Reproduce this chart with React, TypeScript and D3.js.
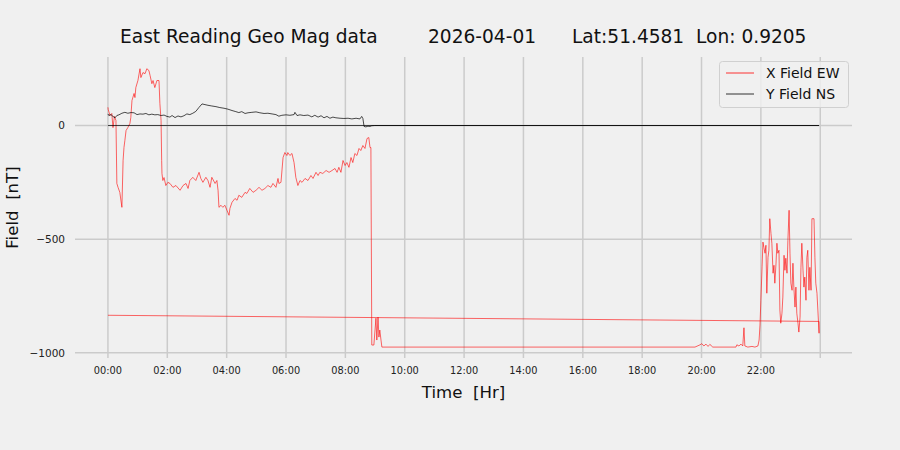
import React from "react";
import * as d3 from "d3";

const TITLE_PARTS = ["East Reading Geo Mag data", "2026-04-01", "Lat:51.4581  Lon: 0.9205"];
const X_LABEL = "Time  [Hr]";
const Y_LABEL = "Field  [nT]";
const SERIES_NAMES = ["X Field EW", "Y Field NS"];
const X_TICK_HOURS = [0, 2, 4, 6, 8, 10, 12, 14, 16, 18, 20, 22, 24];
const X_TICK_LABELS = ["00:00", "02:00", "04:00", "06:00", "08:00", "10:00", "12:00", "14:00", "16:00", "18:00", "20:00", "22:00", ""];
const Y_TICKS = [0, -500, -1000];

// [hour, nT]
const xFieldEW: [number, number][] = [
  [0.0, 80], [0.01, 70], [0.07, 44], [0.13, 53], [0.17, -9], [0.22, 40], [0.27, 22], [0.3, -255], [0.34, -272],
  [0.4, -294], [0.47, -360], [0.51, -154], [0.54, -97], [0.57, -66], [0.61, -22], [0.67, -9], [0.74, 9],
  [0.77, 35], [0.81, 110], [0.88, 141], [0.91, 123], [0.94, 167], [1.01, 198], [1.08, 250], [1.11, 211],
  [1.18, 233], [1.25, 228], [1.31, 250], [1.38, 242], [1.42, 220], [1.48, 184], [1.52, 198], [1.58, 167],
  [1.65, 198], [1.72, 198], [1.75, 97], [1.79, 22], [1.81, -154], [1.82, -211], [1.85, -242], [1.89, -229],
  [1.95, -264], [2.02, -250], [2.09, -255], [2.19, -272], [2.29, -264], [2.43, -285], [2.53, -264],
  [2.63, -255], [2.7, -277], [2.76, -242], [2.86, -228], [2.96, -242], [3.07, -206], [3.13, -233],
  [3.2, -250], [3.3, -228], [3.37, -242], [3.44, -272], [3.5, -228], [3.61, -255], [3.67, -242],
  [3.71, -285], [3.74, -360], [3.81, -351], [3.87, -360], [3.94, -351], [4.01, -373], [4.08, -395],
  [4.11, -365], [4.18, -338], [4.28, -321], [4.35, -329], [4.41, -307], [4.51, -316], [4.62, -294],
  [4.68, -299], [4.78, -277], [4.89, -294], [4.99, -285], [5.09, -272], [5.19, -285], [5.29, -277],
  [5.39, -264], [5.49, -272], [5.56, -255], [5.66, -272], [5.73, -233], [5.76, -255], [5.83, -250],
  [5.9, -141], [5.96, -119], [6.03, -132], [6.06, -119], [6.13, -132], [6.2, -123], [6.27, -163],
  [6.33, -228], [6.4, -264], [6.47, -242], [6.54, -250], [6.64, -233], [6.74, -242], [6.84, -220],
  [6.91, -233], [7.01, -206], [7.08, -220], [7.14, -206], [7.24, -211], [7.35, -198], [7.45, -206],
  [7.55, -198], [7.65, -189], [7.72, -206], [7.78, -184], [7.85, -206], [7.92, -154], [7.99, -176],
  [8.05, -163], [8.12, -184], [8.19, -141], [8.25, -163], [8.32, -123], [8.39, -132], [8.46, -101],
  [8.52, -110], [8.59, -88], [8.66, -101], [8.73, -57], [8.79, -53], [8.83, -97], [8.86, -97],
  [8.89, -966], [8.96, -966], [9.03, -848], [9.06, -944], [9.1, -843], [9.13, -931], [9.16, -900],
  [9.2, -944], [9.23, -975], [19.78, -975], [19.95, -965], [20.01, -960], [20.08, -970], [20.15, -962],
  [20.22, -972], [20.28, -963], [20.38, -975], [21.16, -975], [21.19, -965], [21.26, -970], [21.33, -962],
  [21.39, -970], [21.43, -890], [21.46, -970], [21.56, -975], [21.7, -972], [21.8, -975], [21.9, -970],
  [21.94, -944], [21.97, -878], [22.0, -769], [22.04, -622], [22.07, -513], [22.1, -536], [22.14, -562],
  [22.17, -527], [22.2, -738], [22.24, -580], [22.27, -549], [22.3, -410], [22.34, -475], [22.37, -518],
  [22.41, -650], [22.44, -615], [22.47, -694], [22.51, -606], [22.54, -518], [22.57, -562], [22.61, -549],
  [22.64, -812], [22.67, -870], [22.71, -826], [22.74, -755], [22.78, -571], [22.81, -637], [22.84, -584],
  [22.88, -650], [22.91, -505], [22.95, -373], [22.98, -562], [23.01, -694], [23.05, -725], [23.08, -606],
  [23.11, -711], [23.15, -799], [23.18, -711], [23.21, -826], [23.25, -870], [23.28, -909], [23.32, -843],
  [23.35, -624], [23.38, -518], [23.42, -637], [23.45, -711], [23.48, -667], [23.52, -769], [23.55, -580],
  [23.58, -549], [23.62, -725], [23.65, -624], [23.69, -725], [23.72, -410], [23.75, -410], [23.79, -410],
  [23.82, -580], [23.85, -694], [23.89, -738], [23.92, -812], [23.96, -914], [23.96, -862], [0.0, -835],
];

const yFieldNS: [number, number][] = [
  [0.0, 51], [0.03, 44], [0.1, 48], [0.17, 40], [0.24, 34], [0.3, 44], [0.37, 47], [0.47, 54], [0.57, 58],
  [0.67, 54], [0.78, 57], [0.88, 56], [0.98, 48], [1.08, 51], [1.18, 50], [1.28, 53], [1.38, 47], [1.48, 50],
  [1.58, 47], [1.68, 48], [1.79, 44], [1.89, 46], [1.99, 40], [2.09, 37], [2.16, 44], [2.26, 35], [2.36, 42],
  [2.46, 38], [2.56, 43], [2.66, 51], [2.76, 48], [2.86, 54], [2.96, 62], [3.07, 80], [3.17, 95], [3.27, 92],
  [3.37, 89], [3.5, 86], [3.64, 83], [3.77, 79], [3.91, 76], [4.04, 72], [4.18, 66], [4.31, 61], [4.41, 57],
  [4.51, 61], [4.62, 53], [4.72, 56], [4.85, 58], [4.99, 60], [5.12, 56], [5.26, 53], [5.39, 54], [5.53, 51],
  [5.66, 48], [5.76, 41], [5.86, 45], [6.0, 47], [6.13, 45], [6.27, 48], [6.3, 58], [6.37, 44], [6.47, 47],
  [6.6, 44], [6.74, 46], [6.87, 38], [6.97, 45], [7.08, 37], [7.18, 43], [7.28, 34], [7.38, 40], [7.48, 32],
  [7.58, 37], [7.68, 34], [7.82, 32], [7.95, 31], [8.09, 32], [8.22, 29], [8.36, 32], [8.49, 29], [8.55, 40],
  [8.59, 31], [8.63, -4], [8.69, -6], [8.76, -3], [8.83, -4], [8.89, -1], [8.99, 0], [23.96, 0], [0.0, 0],
];

const W = 900;
const H = 450;
const FONT = "'DejaVu Sans', sans-serif";
const PRE = { whiteSpace: "pre" as const };

export default function App() {
  const x = d3.scaleLinear().domain([-1.11, 25.07]).range([75, 852]);
  const y = d3.scaleLinear().domain([-1023, 301.5]).range([358, 57]);
  const line = d3
    .line<[number, number]>()
    .x((d) => x(d[0]))
    .y((d) => y(d[1]));
  const [x0, x1] = x.range();
  const [yb, yt] = y.range();

  return (
    <svg width={W} height={H} style={{ display: "block", position: "absolute", left: 0, top: 0 }} fontFamily={FONT}>
      <rect x={0} y={0} width={W} height={H} fill="#f0f0f0" />
      {/* grid */}
      {X_TICK_HOURS.map((h) => (
        <line key={"gx" + h} x1={x(h)} x2={x(h)} y1={yt} y2={yb} stroke="#cbcbcb" strokeWidth={1.5} />
      ))}
      {Y_TICKS.map((v) => (
        <line key={"gy" + v} x1={x0} x2={x1} y1={y(v)} y2={y(v)} stroke="#cbcbcb" strokeWidth={1.5} />
      ))}
      {/* series */}
      <path d={line(xFieldEW) || ""} fill="none" stroke="#ff0000" strokeWidth={0.6} strokeLinejoin="round" />
      <path d={line(yFieldNS) || ""} fill="none" stroke="#000000" strokeWidth={0.7} strokeLinejoin="round" />
      {/* tick labels */}
      {X_TICK_HOURS.map((h, i) => (
        <text key={"tx" + h} x={x(h)} y={374} fontSize={9.8} textAnchor="middle" fill="#222">
          {X_TICK_LABELS[i]}
        </text>
      ))}
      {Y_TICKS.map((v) => (
        <text key={"ty" + v} x={65} y={y(v) + 3.8} fontSize={10.5} textAnchor="end" fill="#222">
          {v < 0 ? "\u2212" + Math.abs(v) : String(v)}
        </text>
      ))}
      {/* axis labels */}
      <text x={(x0 + x1) / 2} y={398} fontSize={16.6} textAnchor="middle" fill="#111" style={PRE}>
        {X_LABEL}
      </text>
      <text
        transform={`translate(18, ${(yt + yb) / 2}) rotate(-90)`}
        fontSize={16.6}
        textAnchor="middle"
        fill="#111"
        style={PRE}
      >
        {Y_LABEL}
      </text>
      {/* title */}
      <text x={120} y={43} fontSize={18.6} fill="#111" style={PRE}>{TITLE_PARTS[0]}</text>
      <text x={428} y={43} fontSize={18.6} fill="#111" style={PRE}>{TITLE_PARTS[1]}</text>
      <text x={572} y={43} fontSize={18.6} fill="#111" style={PRE}>{TITLE_PARTS[2]}</text>
      {/* legend */}
      <rect x={719.5} y={61.5} width={129} height={46} rx={3} fill="#f0f0f0" fillOpacity={0.8} stroke="#d0d0d0" strokeWidth={1} />
      <line x1={726} x2={754} y1={73} y2={73} stroke="#ff0000" strokeWidth={0.8} />
      <line x1={726} x2={754} y1={94} y2={94} stroke="#000000" strokeWidth={0.8} />
      <text x={766} y={78} fontSize={14} fill="#111" style={PRE}>{SERIES_NAMES[0]}</text>
      <text x={766} y={99} fontSize={14} fill="#111" style={PRE}>{SERIES_NAMES[1]}</text>
    </svg>
  );
}
